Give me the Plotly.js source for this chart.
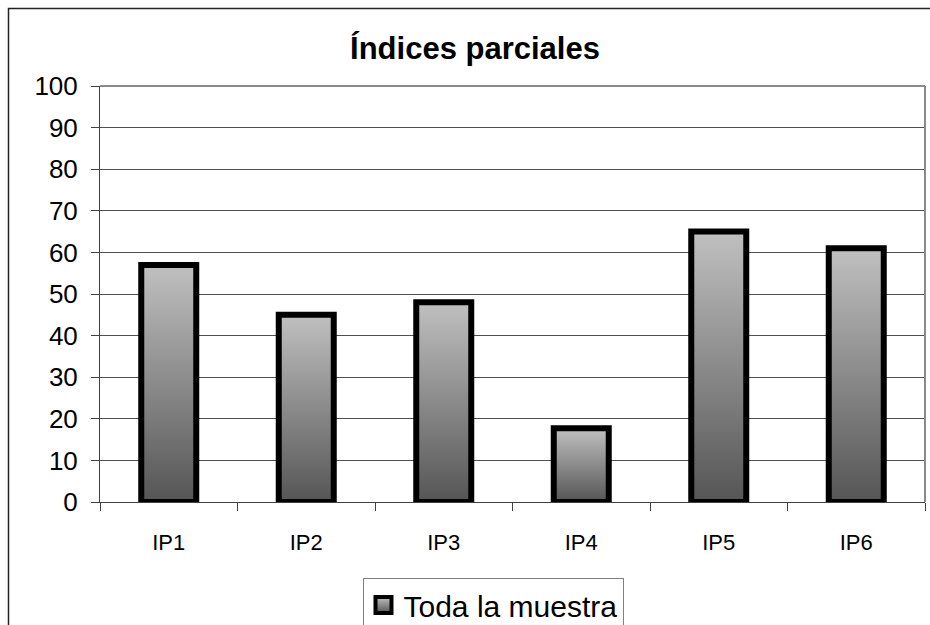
<!DOCTYPE html>
<html>
<head>
<meta charset="utf-8">
<script src="https://cdn.plot.ly/plotly-3.0.1.min.js"></script>
<style>
  html, body { margin: 0; padding: 0; background: #ffffff; }
  #chart { width: 930px; height: 625px; }
</style>
</head>
<body>
<div id="chart"></div>
<script>
// ---- data ----
const categories = ["IP1", "IP2", "IP3", "IP4", "IP5", "IP6"];
const values = [57, 45, 48, 17.7, 65, 61];
const seriesName = "Toda la muestra";
const chartTitle = "Índices parciales";
const yTickVals = [0, 10, 20, 30, 40, 50, 60, 70, 80, 90, 100];

const W = 930, H = 625;
const M = { l: 100, r: 5, t: 86, b: 123, autoexpand: false };
const pw = W - M.l - M.r, ph = H - M.t - M.b;
const px = x => (x - M.l) / pw;          // pixel -> paper x
const py = y => (H - M.b - y) / ph;      // pixel -> paper y

const trace = {
  type: "bar",
  x: categories,
  y: values,
  name: seriesName,
  showlegend: true,
  marker: { color: "#8c8c8c", line: { color: "#000000", width: 6 } },
  hoverinfo: "x+y"
};

const layout = {
  width: W, height: H,
  margin: M,
  paper_bgcolor: "#ffffff",
  plot_bgcolor: "#ffffff",
  font: { family: "Liberation Sans, Arial, sans-serif", color: "#000000" },
  title: {
    text: chartTitle,
    font: { size: 31, family: "Liberation Sans, Arial, sans-serif", weight: "bold", color: "#000" },
    xref: "container", x: 475 / W, xanchor: "center",
    yref: "container", y: 1 - 48 / H, yanchor: "middle"
  },
  bargap: 0.6,
  showlegend: true,
  legend: {
    orientation: "h",
    x: px(493), xanchor: "center",
    y: py(578), yanchor: "top",
    bordercolor: "#808080", borderwidth: 1,
    bgcolor: "#ffffff",
    font: { size: 30, family: "Liberation Sans, Arial, sans-serif", color: "#000" }
  },
  xaxis: {
    type: "category",
    tickson: "boundaries",
    ticks: "outside", ticklen: 8, tickcolor: "#404040", tickwidth: 1,
    showline: true, linecolor: "#404040", linewidth: 1,
    showgrid: false, zeroline: false,
    tickfont: { size: 22, color: "#000" },
    ticklabelstandoff: 21,
    fixedrange: true
  },
  yaxis: {
    range: [0, 100],
    tickvals: yTickVals,
    ticktext: yTickVals.map(String),
    ticks: "outside", ticklen: 8, tickcolor: "#404040", tickwidth: 1,
    showline: true, linecolor: "#404040", linewidth: 1,
    showgrid: true, gridcolor: "#505050", gridwidth: 1,
    zeroline: false,
    tickfont: { size: 26, color: "#000" },
    ticklabelstandoff: 8,
    fixedrange: true
  },
  shapes: [
    // plot-area border (top and right, grey)
    { type: "line", xref: "paper", yref: "paper", x0: 0, x1: 1, y0: 1, y1: 1,
      line: { color: "#8a8a8a", width: 2 } },
    { type: "line", xref: "paper", yref: "paper", x0: 1, x1: 1, y0: 0, y1: 1,
      line: { color: "#8a8a8a", width: 2 } },
    // outer chart frame (cut off at right/bottom)
    { type: "rect", xref: "paper", yref: "paper",
      x0: px(8.5), x1: px(1000), y0: py(1000), y1: py(8.5),
      line: { color: "#222222", width: 1.5 }, fillcolor: "rgba(0,0,0,0)" }
  ]
};

Plotly.newPlot("chart", [trace], layout, { displayModeBar: false, staticPlot: true }).then(function (gd) {
  const svg = gd.querySelector("svg.main-svg");
  const ns = "http://www.w3.org/2000/svg";
  let defs = svg.querySelector("defs");
  if (!defs) { defs = document.createElementNS(ns, "defs"); svg.insertBefore(defs, svg.firstChild); }
  const grad = document.createElementNS(ns, "linearGradient");
  grad.setAttribute("id", "barGrad");
  grad.setAttribute("x1", "0"); grad.setAttribute("y1", "0");
  grad.setAttribute("x2", "0"); grad.setAttribute("y2", "1");
  [["0", "#c0c0c0"], ["1", "#555555"]].forEach(function (s) {
    const st = document.createElementNS(ns, "stop");
    st.setAttribute("offset", s[0]);
    st.setAttribute("stop-color", s[1]);
    grad.appendChild(st);
  });
  defs.appendChild(grad);
  gd.querySelectorAll("g.trace.bars path").forEach(function (p) {
    p.style.fill = "url(#barGrad)";
  });
  gd.querySelectorAll(".legendpoints path").forEach(function (p) {
    p.setAttribute("d", "M8,8H-8V-8H8Z");
    p.style.fill = "url(#barGrad)";
    p.style.strokeWidth = "4px";
    p.style.stroke = "#000";
  });
});
</script>
</body>
</html>
